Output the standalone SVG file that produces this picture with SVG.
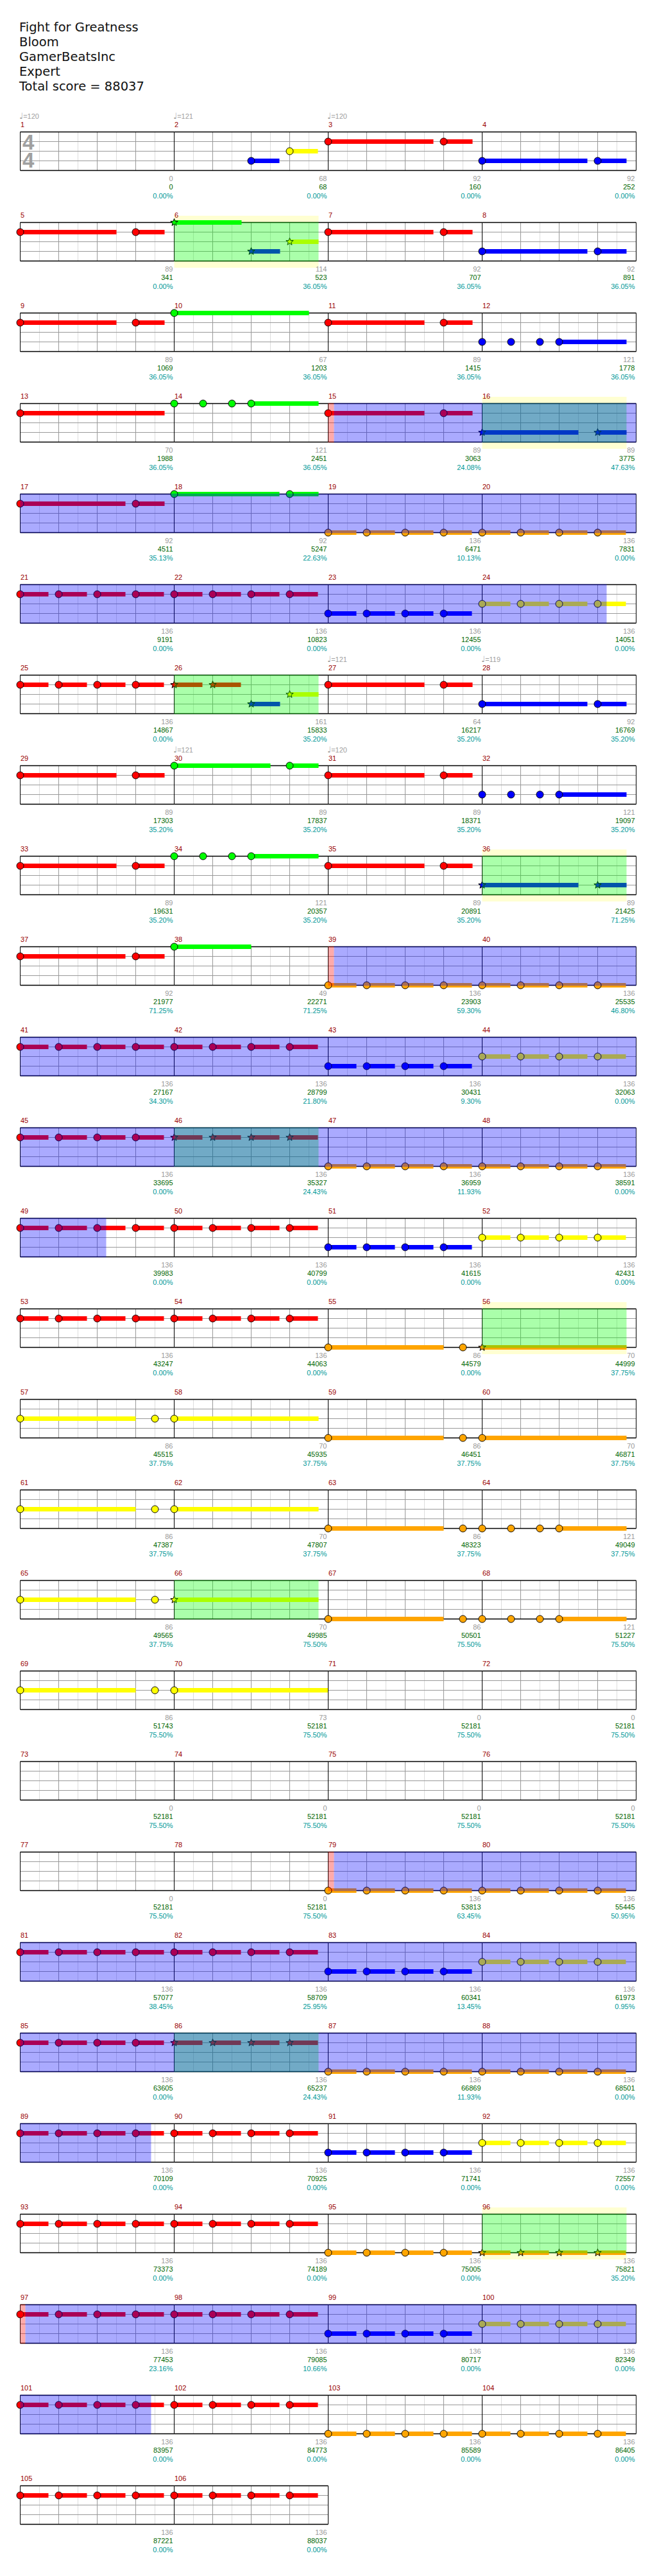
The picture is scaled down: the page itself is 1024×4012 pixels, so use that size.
<svg xmlns="http://www.w3.org/2000/svg" xmlns:xlink="http://www.w3.org/1999/xlink" width="1024" height="4012" viewBox="0 0 1024 4012">
<style>
text{font-family:"Liberation Sans",Arial,sans-serif;font-size:11px}
.ti{font-family:"DejaVu Sans","Liberation Sans",sans-serif;font-size:19.5px;fill:#111}
.mn{fill:#990000}
.gy,.sc,.pc{text-anchor:end}
.gy{fill:#999}
.sc{fill:#006600}
.pc{fill:#009999}
.tp{fill:#a0a0a0}
.nt{font-family:"DejaVu Sans",sans-serif;font-size:13px}
.ts{font-size:33px;font-weight:bold;fill:#a0a0a0}
.n{stroke:#000;stroke-width:1}
.r{fill:#f00}.g{fill:#0f0}.y{fill:#ff0}.b{fill:#00f}.o{fill:#ffa500}
.bd{fill:#ffffd2}
.ob{fill:#00f;opacity:.333}.og{fill:#0f0;opacity:.333}.or{fill:#f00;opacity:.333}
</style>
<defs>
<g id="grid">
<rect width="240" height="60" fill="#fff"/>
<path d="M30 0V60M90 0V60M150 0V60M210 0V60" stroke="#ddd" fill="none"/>
<path d="M60 0V60M120 0V60M180 0V60M0 15H240M0 30H240M0 45H240" stroke="#999" fill="none"/>
<path d="M0 0V60M240 0V60" stroke="#000" fill="none"/>
<path d="M0 0H240M0 60H240" stroke="#000" stroke-width="1.5" fill="none"/>
</g>
<path id="star" d="M0-6L1.47-2.02L5.71-1.85L2.38 0.77L3.53 4.85L0 2.5L-3.53 4.85L-2.38 0.77L-5.71-1.85L-1.47-2.02Z"/>
<g id="sR"><rect class="r" y="11.5" width="44" height="7"/><circle class="n r" cy="15" r="5.5"/></g>
<g id="sY"><rect class="y" y="26.5" width="44" height="7"/><circle class="n y" cy="30" r="5.5"/></g>
<g id="sB"><rect class="b" y="41.5" width="44" height="7"/><circle class="n b" cy="45" r="5.5"/></g>
<g id="sO"><rect class="o" y="56.5" width="44" height="7"/><circle class="n o" cy="60" r="5.5"/></g>
<g id="xR"><rect class="r" y="11.5" width="44" height="7"/><use href="#star" class="n r" y="15"/></g>
<g id="xO"><rect class="o" y="56.5" width="44" height="7"/><use href="#star" class="n o" y="60"/></g>
<g id="R4"><use href="#sR"/><use href="#sR" x="60"/><use href="#sR" x="120"/><use href="#sR" x="180"/></g>
<g id="Y4"><use href="#sY"/><use href="#sY" x="60"/><use href="#sY" x="120"/><use href="#sY" x="180"/></g>
<g id="B4"><use href="#sB"/><use href="#sB" x="60"/><use href="#sB" x="120"/><use href="#sB" x="180"/></g>
<g id="O4"><use href="#sO"/><use href="#sO" x="60"/><use href="#sO" x="120"/><use href="#sO" x="180"/></g>
<g id="XR4"><use href="#xR"/><use href="#xR" x="60"/><use href="#xR" x="120"/><use href="#xR" x="180"/></g>
<g id="XO4"><use href="#xO"/><use href="#xO" x="60"/><use href="#xO" x="120"/><use href="#xO" x="180"/></g>
<g id="R2a"><rect class="r" y="11.5" width="150" height="7"/><circle class="n r" cy="15" r="5.5"/><rect class="r" x="180" y="11.5" width="45" height="7"/><circle class="n r" cx="180" cy="15" r="5.5"/></g>
<g id="R2b"><rect class="r" y="11.5" width="164" height="7"/><circle class="n r" cy="15" r="5.5"/><rect class="r" x="180" y="11.5" width="45" height="7"/><circle class="n r" cx="180" cy="15" r="5.5"/></g>
<g id="B2b"><rect class="b" y="41.5" width="164" height="7"/><circle class="n b" cy="45" r="5.5"/><rect class="b" x="180" y="41.5" width="45" height="7"/><circle class="n b" cx="180" cy="45" r="5.5"/></g>
<g id="G2a"><rect class="g" y="-3.5" width="150" height="7"/><circle class="n g" r="5.5"/><rect class="g" x="180" y="-3.5" width="45" height="7"/><circle class="n g" cx="180" r="5.5"/></g>
<g id="G2b"><rect class="g" y="-3.5" width="164" height="7"/><circle class="n g" r="5.5"/><rect class="g" x="180" y="-3.5" width="45" height="7"/><circle class="n g" cx="180" r="5.5"/></g>
<g id="Y2"><rect class="y" y="26.5" width="180" height="7"/><circle class="n y" cy="30" r="5.5"/><circle class="n y" cx="210" cy="30" r="5.5"/></g>
<g id="O2"><rect class="o" y="56.5" width="180" height="7"/><circle class="n o" cy="60" r="5.5"/><circle class="n o" cx="210" cy="60" r="5.5"/></g>
<g id="G4d"><rect class="g" x="120" y="-3.5" width="105" height="7"/><circle class="n g" r="5.5"/><circle class="n g" cx="45" r="5.5"/><circle class="n g" cx="90" r="5.5"/><circle class="n g" cx="120" r="5.5"/></g>
<g id="B4d"><rect class="b" x="120" y="41.5" width="105" height="7"/><circle class="n b" cy="45" r="5.5"/><circle class="n b" cx="45" cy="45" r="5.5"/><circle class="n b" cx="90" cy="45" r="5.5"/><circle class="n b" cx="120" cy="45" r="5.5"/></g>
<g id="O4d"><rect class="o" x="120" y="56.5" width="105" height="7"/><circle class="n o" cy="60" r="5.5"/><circle class="n o" cx="45" cy="60" r="5.5"/><circle class="n o" cx="90" cy="60" r="5.5"/><circle class="n o" cx="120" cy="60" r="5.5"/></g>
<g id="XB2"><rect class="b" y="41.5" width="150" height="7"/><use href="#star" class="n b" y="45"/><rect class="b" x="180" y="41.5" width="45" height="7"/><use href="#star" class="n b" x="180" y="45"/></g>
</defs>
<rect width="1024" height="4012" fill="#fff"/>
<g id="title">
<text class="ti" x="30" y="49">Fight for Greatness</text>
<text class="ti" x="30" y="72">Bloom</text>
<text class="ti" x="30" y="95">GamerBeatsInc</text>
<text class="ti" x="30" y="118">Expert</text>
<text class="ti" x="30" y="141">Total score = 88037</text>
</g>

<g id="row1">
<g id="m1" transform="translate(31.5,205.5)"><use href="#grid"/><text class="ts" x="3.5" y="27.5">4<tspan x="3.5" dy="28">4</tspan></text><text class="tp" x="-1.5" y="-20.5"><tspan class="nt">♩</tspan>=120</text><text class="mn" x="0.5" y="-7.5">1</text><text class="gy" x="238" y="76.5">0</text><text class="sc" x="238" y="89.5">0</text><text class="pc" x="238" y="103">0.00%</text></g>
<g id="m2" transform="translate(271.5,205.5)"><use href="#grid"/><use href="#sB" x="120"/><use href="#sY" x="180"/><text class="tp" x="-1.5" y="-20.5"><tspan class="nt">♩</tspan>=121</text><text class="mn" x="0.5" y="-7.5">2</text><text class="gy" x="238" y="76.5">68</text><text class="sc" x="238" y="89.5">68</text><text class="pc" x="238" y="103">0.00%</text></g>
<g id="m3" transform="translate(511.5,205.5)"><use href="#grid"/><use href="#R2b"/><text class="tp" x="-1.5" y="-20.5"><tspan class="nt">♩</tspan>=120</text><text class="mn" x="0.5" y="-7.5">3</text><text class="gy" x="238" y="76.5">92</text><text class="sc" x="238" y="89.5">160</text><text class="pc" x="238" y="103">0.00%</text></g>
<g id="m4" transform="translate(751.5,205.5)"><use href="#grid"/><use href="#B2b"/><text class="mn" x="0.5" y="-7.5">4</text><text class="gy" x="238" y="76.5">92</text><text class="sc" x="238" y="89.5">252</text><text class="pc" x="238" y="103">0.00%</text></g>
</g>

<g id="row2">
<g id="m5" transform="translate(31.5,346.5)"><use href="#grid"/><use href="#R2a"/><text class="mn" x="0.5" y="-7.5">5</text><text class="gy" x="238" y="76.5">89</text><text class="sc" x="238" y="89.5">341</text><text class="pc" x="238" y="103">0.00%</text></g>
<g id="m6" transform="translate(271.5,346.5)"><rect class="bd" y="-10.5" width="225" height="81"/><use href="#grid"/><rect class="g" y="-3.5" width="105" height="7"/><use href="#star" class="n g"/><rect class="b" x="120" y="41.5" width="45" height="7"/><use href="#star" class="n b" x="120" y="45"/><rect class="y" x="180" y="26.5" width="45" height="7"/><use href="#star" class="n y" x="180" y="30"/><text class="mn" x="0.5" y="-7.5">6</text><text class="gy" x="238" y="76.5">114</text><text class="sc" x="238" y="89.5">523</text><text class="pc" x="238" y="103">36.05%</text></g>
<g id="m7" transform="translate(511.5,346.5)"><use href="#grid"/><use href="#R2b"/><text class="mn" x="0.5" y="-7.5">7</text><text class="gy" x="238" y="76.5">92</text><text class="sc" x="238" y="89.5">707</text><text class="pc" x="238" y="103">36.05%</text></g>
<g id="m8" transform="translate(751.5,346.5)"><use href="#grid"/><use href="#B2b"/><text class="mn" x="0.5" y="-7.5">8</text><text class="gy" x="238" y="76.5">92</text><text class="sc" x="238" y="89.5">891</text><text class="pc" x="238" y="103">36.05%</text></g>
<g id="sp2"><rect class="og" x="271.5" y="345.75" width="225" height="61.5"/></g>
</g>

<g id="row3">
<g id="m9" transform="translate(31.5,487.5)"><use href="#grid"/><use href="#R2a"/><text class="mn" x="0.5" y="-7.5">9</text><text class="gy" x="238" y="76.5">89</text><text class="sc" x="238" y="89.5">1069</text><text class="pc" x="238" y="103">36.05%</text></g>
<g id="m10" transform="translate(271.5,487.5)"><use href="#grid"/><rect class="g" y="-3.5" width="210" height="7"/><circle class="n g" r="5.5"/><text class="mn" x="0.5" y="-7.5">10</text><text class="gy" x="238" y="76.5">67</text><text class="sc" x="238" y="89.5">1203</text><text class="pc" x="238" y="103">36.05%</text></g>
<g id="m11" transform="translate(511.5,487.5)"><use href="#grid"/><use href="#R2a"/><text class="mn" x="0.5" y="-7.5">11</text><text class="gy" x="238" y="76.5">89</text><text class="sc" x="238" y="89.5">1415</text><text class="pc" x="238" y="103">36.05%</text></g>
<g id="m12" transform="translate(751.5,487.5)"><use href="#grid"/><use href="#B4d"/><text class="mn" x="0.5" y="-7.5">12</text><text class="gy" x="238" y="76.5">121</text><text class="sc" x="238" y="89.5">1778</text><text class="pc" x="238" y="103">36.05%</text></g>
</g>

<g id="row4">
<g id="m13" transform="translate(31.5,628.5)"><use href="#grid"/><rect class="r" y="11.5" width="225" height="7"/><circle class="n r" cy="15" r="5.5"/><text class="mn" x="0.5" y="-7.5">13</text><text class="gy" x="238" y="76.5">70</text><text class="sc" x="238" y="89.5">1988</text><text class="pc" x="238" y="103">36.05%</text></g>
<g id="m14" transform="translate(271.5,628.5)"><use href="#grid"/><use href="#G4d"/><text class="mn" x="0.5" y="-7.5">14</text><text class="gy" x="238" y="76.5">121</text><text class="sc" x="238" y="89.5">2451</text><text class="pc" x="238" y="103">36.05%</text></g>
<g id="m15" transform="translate(511.5,628.5)"><use href="#grid"/><use href="#R2a"/><text class="mn" x="0.5" y="-7.5">15</text><text class="gy" x="238" y="76.5">89</text><text class="sc" x="238" y="89.5">3063</text><text class="pc" x="238" y="103">24.08%</text></g>
<g id="m16" transform="translate(751.5,628.5)"><rect class="bd" y="-10.5" width="225" height="81"/><use href="#grid"/><use href="#XB2"/><text class="mn" x="0.5" y="-7.5">16</text><text class="gy" x="238" y="76.5">89</text><text class="sc" x="238" y="89.5">3775</text><text class="pc" x="238" y="103">47.63%</text></g>
<g id="sp4"><rect class="or" x="511.5" y="627.75" width="9" height="61.5"/><rect class="og" x="751.5" y="627.75" width="225" height="61.5"/><rect class="ob" x="520.5" y="627.75" width="471" height="61.5"/></g>
</g>

<g id="row5">
<g id="m17" transform="translate(31.5,769.5)"><use href="#grid"/><use href="#R2b"/><text class="mn" x="0.5" y="-7.5">17</text><text class="gy" x="238" y="76.5">92</text><text class="sc" x="238" y="89.5">4511</text><text class="pc" x="238" y="103">35.13%</text></g>
<g id="m18" transform="translate(271.5,769.5)"><use href="#grid"/><use href="#G2b"/><text class="mn" x="0.5" y="-7.5">18</text><text class="gy" x="238" y="76.5">92</text><text class="sc" x="238" y="89.5">5247</text><text class="pc" x="238" y="103">22.63%</text></g>
<g id="m19" transform="translate(511.5,769.5)"><use href="#grid"/><use href="#O4"/><text class="mn" x="0.5" y="-7.5">19</text><text class="gy" x="238" y="76.5">136</text><text class="sc" x="238" y="89.5">6471</text><text class="pc" x="238" y="103">10.13%</text></g>
<g id="m20" transform="translate(751.5,769.5)"><use href="#grid"/><use href="#O4"/><text class="mn" x="0.5" y="-7.5">20</text><text class="gy" x="238" y="76.5">136</text><text class="sc" x="238" y="89.5">7831</text><text class="pc" x="238" y="103">0.00%</text></g>
<g id="sp5"><rect class="ob" x="31.5" y="768.75" width="960" height="61.5"/></g>
</g>

<g id="row6">
<g id="m21" transform="translate(31.5,910.5)"><use href="#grid"/><use href="#R4"/><text class="mn" x="0.5" y="-7.5">21</text><text class="gy" x="238" y="76.5">136</text><text class="sc" x="238" y="89.5">9191</text><text class="pc" x="238" y="103">0.00%</text></g>
<g id="m22" transform="translate(271.5,910.5)"><use href="#grid"/><use href="#R4"/><text class="mn" x="0.5" y="-7.5">22</text><text class="gy" x="238" y="76.5">136</text><text class="sc" x="238" y="89.5">10823</text><text class="pc" x="238" y="103">0.00%</text></g>
<g id="m23" transform="translate(511.5,910.5)"><use href="#grid"/><use href="#B4"/><text class="mn" x="0.5" y="-7.5">23</text><text class="gy" x="238" y="76.5">136</text><text class="sc" x="238" y="89.5">12455</text><text class="pc" x="238" y="103">0.00%</text></g>
<g id="m24" transform="translate(751.5,910.5)"><use href="#grid"/><use href="#Y4"/><text class="mn" x="0.5" y="-7.5">24</text><text class="gy" x="238" y="76.5">136</text><text class="sc" x="238" y="89.5">14051</text><text class="pc" x="238" y="103">0.00%</text></g>
<g id="sp6"><rect class="ob" x="31.5" y="909.75" width="914" height="61.5"/></g>
</g>

<g id="row7">
<g id="m25" transform="translate(31.5,1051.5)"><use href="#grid"/><use href="#R4"/><text class="mn" x="0.5" y="-7.5">25</text><text class="gy" x="238" y="76.5">136</text><text class="sc" x="238" y="89.5">14867</text><text class="pc" x="238" y="103">0.00%</text></g>
<g id="m26" transform="translate(271.5,1051.5)"><use href="#grid"/><use href="#xR"/><use href="#xR" x="60"/><rect class="b" x="120" y="41.5" width="45" height="7"/><use href="#star" class="n b" x="120" y="45"/><rect class="y" x="180" y="26.5" width="45" height="7"/><use href="#star" class="n y" x="180" y="30"/><text class="mn" x="0.5" y="-7.5">26</text><text class="gy" x="238" y="76.5">161</text><text class="sc" x="238" y="89.5">15833</text><text class="pc" x="238" y="103">35.20%</text></g>
<g id="m27" transform="translate(511.5,1051.5)"><use href="#grid"/><use href="#R2a"/><text class="tp" x="-1.5" y="-20.5"><tspan class="nt">♩</tspan>=121</text><text class="mn" x="0.5" y="-7.5">27</text><text class="gy" x="238" y="76.5">64</text><text class="sc" x="238" y="89.5">16217</text><text class="pc" x="238" y="103">35.20%</text></g>
<g id="m28" transform="translate(751.5,1051.5)"><use href="#grid"/><use href="#B2b"/><text class="tp" x="-1.5" y="-20.5"><tspan class="nt">♩</tspan>=119</text><text class="mn" x="0.5" y="-7.5">28</text><text class="gy" x="238" y="76.5">92</text><text class="sc" x="238" y="89.5">16769</text><text class="pc" x="238" y="103">35.20%</text></g>
<g id="sp7"><rect class="og" x="271.5" y="1050.75" width="225" height="61.5"/></g>
</g>

<g id="row8">
<g id="m29" transform="translate(31.5,1192.5)"><use href="#grid"/><use href="#R2a"/><text class="mn" x="0.5" y="-7.5">29</text><text class="gy" x="238" y="76.5">89</text><text class="sc" x="238" y="89.5">17303</text><text class="pc" x="238" y="103">35.20%</text></g>
<g id="m30" transform="translate(271.5,1192.5)"><use href="#grid"/><use href="#G2a"/><text class="tp" x="-1.5" y="-20.5"><tspan class="nt">♩</tspan>=121</text><text class="mn" x="0.5" y="-7.5">30</text><text class="gy" x="238" y="76.5">89</text><text class="sc" x="238" y="89.5">17837</text><text class="pc" x="238" y="103">35.20%</text></g>
<g id="m31" transform="translate(511.5,1192.5)"><use href="#grid"/><use href="#R2a"/><text class="tp" x="-1.5" y="-20.5"><tspan class="nt">♩</tspan>=120</text><text class="mn" x="0.5" y="-7.5">31</text><text class="gy" x="238" y="76.5">89</text><text class="sc" x="238" y="89.5">18371</text><text class="pc" x="238" y="103">35.20%</text></g>
<g id="m32" transform="translate(751.5,1192.5)"><use href="#grid"/><use href="#B4d"/><text class="mn" x="0.5" y="-7.5">32</text><text class="gy" x="238" y="76.5">121</text><text class="sc" x="238" y="89.5">19097</text><text class="pc" x="238" y="103">35.20%</text></g>
</g>

<g id="row9">
<g id="m33" transform="translate(31.5,1333.5)"><use href="#grid"/><use href="#R2a"/><text class="mn" x="0.5" y="-7.5">33</text><text class="gy" x="238" y="76.5">89</text><text class="sc" x="238" y="89.5">19631</text><text class="pc" x="238" y="103">35.20%</text></g>
<g id="m34" transform="translate(271.5,1333.5)"><use href="#grid"/><use href="#G4d"/><text class="mn" x="0.5" y="-7.5">34</text><text class="gy" x="238" y="76.5">121</text><text class="sc" x="238" y="89.5">20357</text><text class="pc" x="238" y="103">35.20%</text></g>
<g id="m35" transform="translate(511.5,1333.5)"><use href="#grid"/><use href="#R2a"/><text class="mn" x="0.5" y="-7.5">35</text><text class="gy" x="238" y="76.5">89</text><text class="sc" x="238" y="89.5">20891</text><text class="pc" x="238" y="103">35.20%</text></g>
<g id="m36" transform="translate(751.5,1333.5)"><rect class="bd" y="-10.5" width="225" height="81"/><use href="#grid"/><use href="#XB2"/><text class="mn" x="0.5" y="-7.5">36</text><text class="gy" x="238" y="76.5">89</text><text class="sc" x="238" y="89.5">21425</text><text class="pc" x="238" y="103">71.25%</text></g>
<g id="sp9"><rect class="og" x="751.5" y="1332.75" width="225" height="61.5"/></g>
</g>

<g id="row10">
<g id="m37" transform="translate(31.5,1474.5)"><use href="#grid"/><use href="#R2b"/><text class="mn" x="0.5" y="-7.5">37</text><text class="gy" x="238" y="76.5">92</text><text class="sc" x="238" y="89.5">21977</text><text class="pc" x="238" y="103">71.25%</text></g>
<g id="m38" transform="translate(271.5,1474.5)"><use href="#grid"/><rect class="g" y="-3.5" width="120" height="7"/><circle class="n g" r="5.5"/><text class="mn" x="0.5" y="-7.5">38</text><text class="gy" x="238" y="76.5">49</text><text class="sc" x="238" y="89.5">22271</text><text class="pc" x="238" y="103">71.25%</text></g>
<g id="m39" transform="translate(511.5,1474.5)"><use href="#grid"/><use href="#O4"/><text class="mn" x="0.5" y="-7.5">39</text><text class="gy" x="238" y="76.5">136</text><text class="sc" x="238" y="89.5">23903</text><text class="pc" x="238" y="103">59.30%</text></g>
<g id="m40" transform="translate(751.5,1474.5)"><use href="#grid"/><use href="#O4"/><text class="mn" x="0.5" y="-7.5">40</text><text class="gy" x="238" y="76.5">136</text><text class="sc" x="238" y="89.5">25535</text><text class="pc" x="238" y="103">46.80%</text></g>
<g id="sp10"><rect class="or" x="511.5" y="1473.75" width="9" height="61.5"/><rect class="ob" x="520.5" y="1473.75" width="471" height="61.5"/></g>
</g>

<g id="row11">
<g id="m41" transform="translate(31.5,1615.5)"><use href="#grid"/><use href="#R4"/><text class="mn" x="0.5" y="-7.5">41</text><text class="gy" x="238" y="76.5">136</text><text class="sc" x="238" y="89.5">27167</text><text class="pc" x="238" y="103">34.30%</text></g>
<g id="m42" transform="translate(271.5,1615.5)"><use href="#grid"/><use href="#R4"/><text class="mn" x="0.5" y="-7.5">42</text><text class="gy" x="238" y="76.5">136</text><text class="sc" x="238" y="89.5">28799</text><text class="pc" x="238" y="103">21.80%</text></g>
<g id="m43" transform="translate(511.5,1615.5)"><use href="#grid"/><use href="#B4"/><text class="mn" x="0.5" y="-7.5">43</text><text class="gy" x="238" y="76.5">136</text><text class="sc" x="238" y="89.5">30431</text><text class="pc" x="238" y="103">9.30%</text></g>
<g id="m44" transform="translate(751.5,1615.5)"><use href="#grid"/><use href="#Y4"/><text class="mn" x="0.5" y="-7.5">44</text><text class="gy" x="238" y="76.5">136</text><text class="sc" x="238" y="89.5">32063</text><text class="pc" x="238" y="103">0.00%</text></g>
<g id="sp11"><rect class="ob" x="31.5" y="1614.75" width="960" height="61.5"/></g>
</g>

<g id="row12">
<g id="m45" transform="translate(31.5,1756.5)"><use href="#grid"/><use href="#R4"/><text class="mn" x="0.5" y="-7.5">45</text><text class="gy" x="238" y="76.5">136</text><text class="sc" x="238" y="89.5">33695</text><text class="pc" x="238" y="103">0.00%</text></g>
<g id="m46" transform="translate(271.5,1756.5)"><use href="#grid"/><use href="#XR4"/><text class="mn" x="0.5" y="-7.5">46</text><text class="gy" x="238" y="76.5">136</text><text class="sc" x="238" y="89.5">35327</text><text class="pc" x="238" y="103">24.43%</text></g>
<g id="m47" transform="translate(511.5,1756.5)"><use href="#grid"/><use href="#O4"/><text class="mn" x="0.5" y="-7.5">47</text><text class="gy" x="238" y="76.5">136</text><text class="sc" x="238" y="89.5">36959</text><text class="pc" x="238" y="103">11.93%</text></g>
<g id="m48" transform="translate(751.5,1756.5)"><use href="#grid"/><use href="#O4"/><text class="mn" x="0.5" y="-7.5">48</text><text class="gy" x="238" y="76.5">136</text><text class="sc" x="238" y="89.5">38591</text><text class="pc" x="238" y="103">0.00%</text></g>
<g id="sp12"><rect class="og" x="271.5" y="1755.75" width="225" height="61.5"/><rect class="ob" x="31.5" y="1755.75" width="960" height="61.5"/></g>
</g>

<g id="row13">
<g id="m49" transform="translate(31.5,1897.5)"><use href="#grid"/><use href="#R4"/><text class="mn" x="0.5" y="-7.5">49</text><text class="gy" x="238" y="76.5">136</text><text class="sc" x="238" y="89.5">39983</text><text class="pc" x="238" y="103">0.00%</text></g>
<g id="m50" transform="translate(271.5,1897.5)"><use href="#grid"/><use href="#R4"/><text class="mn" x="0.5" y="-7.5">50</text><text class="gy" x="238" y="76.5">136</text><text class="sc" x="238" y="89.5">40799</text><text class="pc" x="238" y="103">0.00%</text></g>
<g id="m51" transform="translate(511.5,1897.5)"><use href="#grid"/><use href="#B4"/><text class="mn" x="0.5" y="-7.5">51</text><text class="gy" x="238" y="76.5">136</text><text class="sc" x="238" y="89.5">41615</text><text class="pc" x="238" y="103">0.00%</text></g>
<g id="m52" transform="translate(751.5,1897.5)"><use href="#grid"/><use href="#Y4"/><text class="mn" x="0.5" y="-7.5">52</text><text class="gy" x="238" y="76.5">136</text><text class="sc" x="238" y="89.5">42431</text><text class="pc" x="238" y="103">0.00%</text></g>
<g id="sp13"><rect class="ob" x="31.5" y="1896.75" width="134" height="61.5"/></g>
</g>

<g id="row14">
<g id="m53" transform="translate(31.5,2038.5)"><use href="#grid"/><use href="#R4"/><text class="mn" x="0.5" y="-7.5">53</text><text class="gy" x="238" y="76.5">136</text><text class="sc" x="238" y="89.5">43247</text><text class="pc" x="238" y="103">0.00%</text></g>
<g id="m54" transform="translate(271.5,2038.5)"><use href="#grid"/><use href="#R4"/><text class="mn" x="0.5" y="-7.5">54</text><text class="gy" x="238" y="76.5">136</text><text class="sc" x="238" y="89.5">44063</text><text class="pc" x="238" y="103">0.00%</text></g>
<g id="m55" transform="translate(511.5,2038.5)"><use href="#grid"/><use href="#O2"/><text class="mn" x="0.5" y="-7.5">55</text><text class="gy" x="238" y="76.5">86</text><text class="sc" x="238" y="89.5">44579</text><text class="pc" x="238" y="103">0.00%</text></g>
<g id="m56" transform="translate(751.5,2038.5)"><rect class="bd" y="-10.5" width="225" height="81"/><use href="#grid"/><rect class="o" y="56.5" width="225" height="7"/><use href="#star" class="n o" y="60"/><text class="mn" x="0.5" y="-7.5">56</text><text class="gy" x="238" y="76.5">70</text><text class="sc" x="238" y="89.5">44999</text><text class="pc" x="238" y="103">37.75%</text></g>
<g id="sp14"><rect class="og" x="751.5" y="2037.75" width="225" height="61.5"/></g>
</g>

<g id="row15">
<g id="m57" transform="translate(31.5,2179.5)"><use href="#grid"/><use href="#Y2"/><text class="mn" x="0.5" y="-7.5">57</text><text class="gy" x="238" y="76.5">86</text><text class="sc" x="238" y="89.5">45515</text><text class="pc" x="238" y="103">37.75%</text></g>
<g id="m58" transform="translate(271.5,2179.5)"><use href="#grid"/><rect class="y" y="26.5" width="225" height="7"/><circle class="n y" cy="30" r="5.5"/><text class="mn" x="0.5" y="-7.5">58</text><text class="gy" x="238" y="76.5">70</text><text class="sc" x="238" y="89.5">45935</text><text class="pc" x="238" y="103">37.75%</text></g>
<g id="m59" transform="translate(511.5,2179.5)"><use href="#grid"/><use href="#O2"/><text class="mn" x="0.5" y="-7.5">59</text><text class="gy" x="238" y="76.5">86</text><text class="sc" x="238" y="89.5">46451</text><text class="pc" x="238" y="103">37.75%</text></g>
<g id="m60" transform="translate(751.5,2179.5)"><use href="#grid"/><rect class="o" y="56.5" width="225" height="7"/><circle class="n o" cy="60" r="5.5"/><text class="mn" x="0.5" y="-7.5">60</text><text class="gy" x="238" y="76.5">70</text><text class="sc" x="238" y="89.5">46871</text><text class="pc" x="238" y="103">37.75%</text></g>
</g>

<g id="row16">
<g id="m61" transform="translate(31.5,2320.5)"><use href="#grid"/><use href="#Y2"/><text class="mn" x="0.5" y="-7.5">61</text><text class="gy" x="238" y="76.5">86</text><text class="sc" x="238" y="89.5">47387</text><text class="pc" x="238" y="103">37.75%</text></g>
<g id="m62" transform="translate(271.5,2320.5)"><use href="#grid"/><rect class="y" y="26.5" width="225" height="7"/><circle class="n y" cy="30" r="5.5"/><text class="mn" x="0.5" y="-7.5">62</text><text class="gy" x="238" y="76.5">70</text><text class="sc" x="238" y="89.5">47807</text><text class="pc" x="238" y="103">37.75%</text></g>
<g id="m63" transform="translate(511.5,2320.5)"><use href="#grid"/><use href="#O2"/><text class="mn" x="0.5" y="-7.5">63</text><text class="gy" x="238" y="76.5">86</text><text class="sc" x="238" y="89.5">48323</text><text class="pc" x="238" y="103">37.75%</text></g>
<g id="m64" transform="translate(751.5,2320.5)"><use href="#grid"/><use href="#O4d"/><text class="mn" x="0.5" y="-7.5">64</text><text class="gy" x="238" y="76.5">121</text><text class="sc" x="238" y="89.5">49049</text><text class="pc" x="238" y="103">37.75%</text></g>
</g>

<g id="row17">
<g id="m65" transform="translate(31.5,2461.5)"><use href="#grid"/><use href="#Y2"/><text class="mn" x="0.5" y="-7.5">65</text><text class="gy" x="238" y="76.5">86</text><text class="sc" x="238" y="89.5">49565</text><text class="pc" x="238" y="103">37.75%</text></g>
<g id="m66" transform="translate(271.5,2461.5)"><use href="#grid"/><rect class="y" y="26.5" width="225" height="7"/><use href="#star" class="n y" y="30"/><text class="mn" x="0.5" y="-7.5">66</text><text class="gy" x="238" y="76.5">70</text><text class="sc" x="238" y="89.5">49985</text><text class="pc" x="238" y="103">75.50%</text></g>
<g id="m67" transform="translate(511.5,2461.5)"><use href="#grid"/><use href="#O2"/><text class="mn" x="0.5" y="-7.5">67</text><text class="gy" x="238" y="76.5">86</text><text class="sc" x="238" y="89.5">50501</text><text class="pc" x="238" y="103">75.50%</text></g>
<g id="m68" transform="translate(751.5,2461.5)"><use href="#grid"/><use href="#O4d"/><text class="mn" x="0.5" y="-7.5">68</text><text class="gy" x="238" y="76.5">121</text><text class="sc" x="238" y="89.5">51227</text><text class="pc" x="238" y="103">75.50%</text></g>
<g id="sp17"><rect class="og" x="271.5" y="2460.75" width="225" height="61.5"/></g>
</g>

<g id="row18">
<g id="m69" transform="translate(31.5,2602.5)"><use href="#grid"/><use href="#Y2"/><text class="mn" x="0.5" y="-7.5">69</text><text class="gy" x="238" y="76.5">86</text><text class="sc" x="238" y="89.5">51743</text><text class="pc" x="238" y="103">75.50%</text></g>
<g id="m70" transform="translate(271.5,2602.5)"><use href="#grid"/><rect class="y" y="26.5" width="240" height="7"/><circle class="n y" cy="30" r="5.5"/><text class="mn" x="0.5" y="-7.5">70</text><text class="gy" x="238" y="76.5">73</text><text class="sc" x="238" y="89.5">52181</text><text class="pc" x="238" y="103">75.50%</text></g>
<g id="m71" transform="translate(511.5,2602.5)"><use href="#grid"/><text class="mn" x="0.5" y="-7.5">71</text><text class="gy" x="238" y="76.5">0</text><text class="sc" x="238" y="89.5">52181</text><text class="pc" x="238" y="103">75.50%</text></g>
<g id="m72" transform="translate(751.5,2602.5)"><use href="#grid"/><text class="mn" x="0.5" y="-7.5">72</text><text class="gy" x="238" y="76.5">0</text><text class="sc" x="238" y="89.5">52181</text><text class="pc" x="238" y="103">75.50%</text></g>
</g>

<g id="row19">
<g id="m73" transform="translate(31.5,2743.5)"><use href="#grid"/><text class="mn" x="0.5" y="-7.5">73</text><text class="gy" x="238" y="76.5">0</text><text class="sc" x="238" y="89.5">52181</text><text class="pc" x="238" y="103">75.50%</text></g>
<g id="m74" transform="translate(271.5,2743.5)"><use href="#grid"/><text class="mn" x="0.5" y="-7.5">74</text><text class="gy" x="238" y="76.5">0</text><text class="sc" x="238" y="89.5">52181</text><text class="pc" x="238" y="103">75.50%</text></g>
<g id="m75" transform="translate(511.5,2743.5)"><use href="#grid"/><text class="mn" x="0.5" y="-7.5">75</text><text class="gy" x="238" y="76.5">0</text><text class="sc" x="238" y="89.5">52181</text><text class="pc" x="238" y="103">75.50%</text></g>
<g id="m76" transform="translate(751.5,2743.5)"><use href="#grid"/><text class="mn" x="0.5" y="-7.5">76</text><text class="gy" x="238" y="76.5">0</text><text class="sc" x="238" y="89.5">52181</text><text class="pc" x="238" y="103">75.50%</text></g>
</g>

<g id="row20">
<g id="m77" transform="translate(31.5,2884.5)"><use href="#grid"/><text class="mn" x="0.5" y="-7.5">77</text><text class="gy" x="238" y="76.5">0</text><text class="sc" x="238" y="89.5">52181</text><text class="pc" x="238" y="103">75.50%</text></g>
<g id="m78" transform="translate(271.5,2884.5)"><use href="#grid"/><text class="mn" x="0.5" y="-7.5">78</text><text class="gy" x="238" y="76.5">0</text><text class="sc" x="238" y="89.5">52181</text><text class="pc" x="238" y="103">75.50%</text></g>
<g id="m79" transform="translate(511.5,2884.5)"><use href="#grid"/><use href="#O4"/><text class="mn" x="0.5" y="-7.5">79</text><text class="gy" x="238" y="76.5">136</text><text class="sc" x="238" y="89.5">53813</text><text class="pc" x="238" y="103">63.45%</text></g>
<g id="m80" transform="translate(751.5,2884.5)"><use href="#grid"/><use href="#O4"/><text class="mn" x="0.5" y="-7.5">80</text><text class="gy" x="238" y="76.5">136</text><text class="sc" x="238" y="89.5">55445</text><text class="pc" x="238" y="103">50.95%</text></g>
<g id="sp20"><rect class="or" x="511.5" y="2883.75" width="9" height="61.5"/><rect class="ob" x="520.5" y="2883.75" width="471" height="61.5"/></g>
</g>

<g id="row21">
<g id="m81" transform="translate(31.5,3025.5)"><use href="#grid"/><use href="#R4"/><text class="mn" x="0.5" y="-7.5">81</text><text class="gy" x="238" y="76.5">136</text><text class="sc" x="238" y="89.5">57077</text><text class="pc" x="238" y="103">38.45%</text></g>
<g id="m82" transform="translate(271.5,3025.5)"><use href="#grid"/><use href="#R4"/><text class="mn" x="0.5" y="-7.5">82</text><text class="gy" x="238" y="76.5">136</text><text class="sc" x="238" y="89.5">58709</text><text class="pc" x="238" y="103">25.95%</text></g>
<g id="m83" transform="translate(511.5,3025.5)"><use href="#grid"/><use href="#B4"/><text class="mn" x="0.5" y="-7.5">83</text><text class="gy" x="238" y="76.5">136</text><text class="sc" x="238" y="89.5">60341</text><text class="pc" x="238" y="103">13.45%</text></g>
<g id="m84" transform="translate(751.5,3025.5)"><use href="#grid"/><use href="#Y4"/><text class="mn" x="0.5" y="-7.5">84</text><text class="gy" x="238" y="76.5">136</text><text class="sc" x="238" y="89.5">61973</text><text class="pc" x="238" y="103">0.95%</text></g>
<g id="sp21"><rect class="ob" x="31.5" y="3024.75" width="960" height="61.5"/></g>
</g>

<g id="row22">
<g id="m85" transform="translate(31.5,3166.5)"><use href="#grid"/><use href="#R4"/><text class="mn" x="0.5" y="-7.5">85</text><text class="gy" x="238" y="76.5">136</text><text class="sc" x="238" y="89.5">63605</text><text class="pc" x="238" y="103">0.00%</text></g>
<g id="m86" transform="translate(271.5,3166.5)"><use href="#grid"/><use href="#XR4"/><text class="mn" x="0.5" y="-7.5">86</text><text class="gy" x="238" y="76.5">136</text><text class="sc" x="238" y="89.5">65237</text><text class="pc" x="238" y="103">24.43%</text></g>
<g id="m87" transform="translate(511.5,3166.5)"><use href="#grid"/><use href="#O4"/><text class="mn" x="0.5" y="-7.5">87</text><text class="gy" x="238" y="76.5">136</text><text class="sc" x="238" y="89.5">66869</text><text class="pc" x="238" y="103">11.93%</text></g>
<g id="m88" transform="translate(751.5,3166.5)"><use href="#grid"/><use href="#O4"/><text class="mn" x="0.5" y="-7.5">88</text><text class="gy" x="238" y="76.5">136</text><text class="sc" x="238" y="89.5">68501</text><text class="pc" x="238" y="103">0.00%</text></g>
<g id="sp22"><rect class="og" x="271.5" y="3165.75" width="225" height="61.5"/><rect class="ob" x="31.5" y="3165.75" width="960" height="61.5"/></g>
</g>

<g id="row23">
<g id="m89" transform="translate(31.5,3307.5)"><use href="#grid"/><use href="#R4"/><text class="mn" x="0.5" y="-7.5">89</text><text class="gy" x="238" y="76.5">136</text><text class="sc" x="238" y="89.5">70109</text><text class="pc" x="238" y="103">0.00%</text></g>
<g id="m90" transform="translate(271.5,3307.5)"><use href="#grid"/><use href="#R4"/><text class="mn" x="0.5" y="-7.5">90</text><text class="gy" x="238" y="76.5">136</text><text class="sc" x="238" y="89.5">70925</text><text class="pc" x="238" y="103">0.00%</text></g>
<g id="m91" transform="translate(511.5,3307.5)"><use href="#grid"/><use href="#B4"/><text class="mn" x="0.5" y="-7.5">91</text><text class="gy" x="238" y="76.5">136</text><text class="sc" x="238" y="89.5">71741</text><text class="pc" x="238" y="103">0.00%</text></g>
<g id="m92" transform="translate(751.5,3307.5)"><use href="#grid"/><use href="#Y4"/><text class="mn" x="0.5" y="-7.5">92</text><text class="gy" x="238" y="76.5">136</text><text class="sc" x="238" y="89.5">72557</text><text class="pc" x="238" y="103">0.00%</text></g>
<g id="sp23"><rect class="ob" x="31.5" y="3306.75" width="204" height="61.5"/></g>
</g>

<g id="row24">
<g id="m93" transform="translate(31.5,3448.5)"><use href="#grid"/><use href="#R4"/><text class="mn" x="0.5" y="-7.5">93</text><text class="gy" x="238" y="76.5">136</text><text class="sc" x="238" y="89.5">73373</text><text class="pc" x="238" y="103">0.00%</text></g>
<g id="m94" transform="translate(271.5,3448.5)"><use href="#grid"/><use href="#R4"/><text class="mn" x="0.5" y="-7.5">94</text><text class="gy" x="238" y="76.5">136</text><text class="sc" x="238" y="89.5">74189</text><text class="pc" x="238" y="103">0.00%</text></g>
<g id="m95" transform="translate(511.5,3448.5)"><use href="#grid"/><use href="#O4"/><text class="mn" x="0.5" y="-7.5">95</text><text class="gy" x="238" y="76.5">136</text><text class="sc" x="238" y="89.5">75005</text><text class="pc" x="238" y="103">0.00%</text></g>
<g id="m96" transform="translate(751.5,3448.5)"><rect class="bd" y="-10.5" width="225" height="81"/><use href="#grid"/><use href="#XO4"/><text class="mn" x="0.5" y="-7.5">96</text><text class="gy" x="238" y="76.5">136</text><text class="sc" x="238" y="89.5">75821</text><text class="pc" x="238" y="103">35.20%</text></g>
<g id="sp24"><rect class="og" x="751.5" y="3447.75" width="225" height="61.5"/></g>
</g>

<g id="row25">
<g id="m97" transform="translate(31.5,3589.5)"><use href="#grid"/><use href="#R4"/><text class="mn" x="0.5" y="-7.5">97</text><text class="gy" x="238" y="76.5">136</text><text class="sc" x="238" y="89.5">77453</text><text class="pc" x="238" y="103">23.16%</text></g>
<g id="m98" transform="translate(271.5,3589.5)"><use href="#grid"/><use href="#R4"/><text class="mn" x="0.5" y="-7.5">98</text><text class="gy" x="238" y="76.5">136</text><text class="sc" x="238" y="89.5">79085</text><text class="pc" x="238" y="103">10.66%</text></g>
<g id="m99" transform="translate(511.5,3589.5)"><use href="#grid"/><use href="#B4"/><text class="mn" x="0.5" y="-7.5">99</text><text class="gy" x="238" y="76.5">136</text><text class="sc" x="238" y="89.5">80717</text><text class="pc" x="238" y="103">0.00%</text></g>
<g id="m100" transform="translate(751.5,3589.5)"><use href="#grid"/><use href="#Y4"/><text class="mn" x="0.5" y="-7.5">100</text><text class="gy" x="238" y="76.5">136</text><text class="sc" x="238" y="89.5">82349</text><text class="pc" x="238" y="103">0.00%</text></g>
<g id="sp25"><rect class="or" x="31.5" y="3588.75" width="8" height="61.5"/><rect class="ob" x="39.5" y="3588.75" width="952" height="61.5"/></g>
</g>

<g id="row26">
<g id="m101" transform="translate(31.5,3730.5)"><use href="#grid"/><use href="#R4"/><text class="mn" x="0.5" y="-7.5">101</text><text class="gy" x="238" y="76.5">136</text><text class="sc" x="238" y="89.5">83957</text><text class="pc" x="238" y="103">0.00%</text></g>
<g id="m102" transform="translate(271.5,3730.5)"><use href="#grid"/><use href="#R4"/><text class="mn" x="0.5" y="-7.5">102</text><text class="gy" x="238" y="76.5">136</text><text class="sc" x="238" y="89.5">84773</text><text class="pc" x="238" y="103">0.00%</text></g>
<g id="m103" transform="translate(511.5,3730.5)"><use href="#grid"/><use href="#O4"/><text class="mn" x="0.5" y="-7.5">103</text><text class="gy" x="238" y="76.5">136</text><text class="sc" x="238" y="89.5">85589</text><text class="pc" x="238" y="103">0.00%</text></g>
<g id="m104" transform="translate(751.5,3730.5)"><use href="#grid"/><use href="#O4"/><text class="mn" x="0.5" y="-7.5">104</text><text class="gy" x="238" y="76.5">136</text><text class="sc" x="238" y="89.5">86405</text><text class="pc" x="238" y="103">0.00%</text></g>
<g id="sp26"><rect class="ob" x="31.5" y="3729.75" width="204" height="61.5"/></g>
</g>

<g id="row27">
<g id="m105" transform="translate(31.5,3871.5)"><use href="#grid"/><use href="#R4"/><text class="mn" x="0.5" y="-7.5">105</text><text class="gy" x="238" y="76.5">136</text><text class="sc" x="238" y="89.5">87221</text><text class="pc" x="238" y="103">0.00%</text></g>
<g id="m106" transform="translate(271.5,3871.5)"><use href="#grid"/><use href="#R4"/><text class="mn" x="0.5" y="-7.5">106</text><text class="gy" x="238" y="76.5">136</text><text class="sc" x="238" y="89.5">88037</text><text class="pc" x="238" y="103">0.00%</text></g>
</g>
</svg>
